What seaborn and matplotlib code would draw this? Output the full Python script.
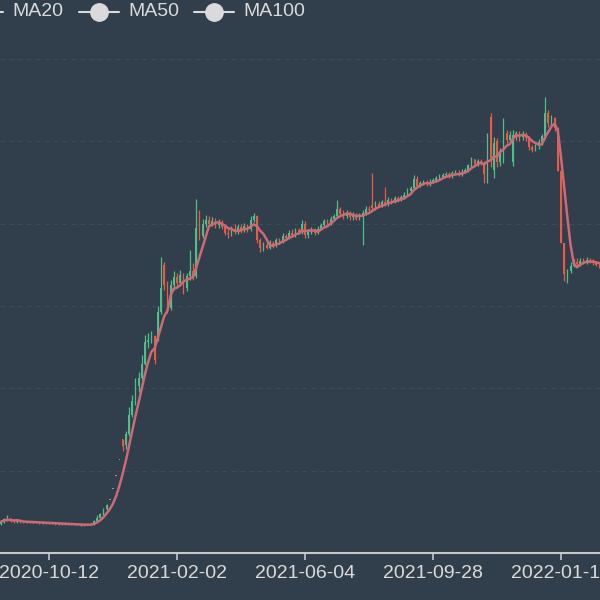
import numpy as np
import pandas as pd
import matplotlib
matplotlib.use("Agg")
import matplotlib.pyplot as plt
from matplotlib.lines import Line2D
import seaborn as sns

# ---------------------------------------------------------------------------
# Candles (one candle per ~2 trading days, price units)
# ---------------------------------------------------------------------------
open_ = [
    3.5, 3.8, 4.1, 4.2, 3.9, 3.8, 3.9, 3.8, 3.7, 3.8,
    3.7, 3.75, 3.7, 3.65, 3.7, 3.6, 3.65, 3.6, 3.55, 3.6,
    3.5, 3.55, 3.5, 3.45, 3.5, 3.4, 3.45, 3.4, 3.45, 3.5,
    3.9, 4.3, 4.7, 5.3, 6.4, 7.75, 9.4, 11.35, 13.8, 13.1,
    14.4, 16.8, 18.5, 20.3, 21.3, 23.0, 25.6, 25.9, 26.4, 26.0,
    29.3, 35.0, 32.5, 29.8, 32.6, 33.5, 32.8, 33.8, 32.2, 33.6,
    34.3, 33.6, 41.0, 38.5, 40.0, 40.5, 40.0, 40.3, 39.8, 40.2,
    39.6, 38.9, 38.7, 39.4, 39.0, 39.6, 39.2, 39.7, 39.3, 40.5,
    40.9, 38.0, 37.0, 37.4, 37.1, 37.6, 37.4, 38.0, 37.8, 38.5,
    38.3, 38.9, 38.6, 39.2, 39.0, 40.0, 38.6, 39.0, 39.3, 38.9,
    39.4, 39.8, 40.3, 40.0, 40.6, 40.9, 41.8, 41.2, 40.9, 41.3,
    40.8, 41.1, 40.6, 41.0, 41.3, 41.8, 42.3, 41.9, 42.4, 42.2,
    42.6, 42.4, 42.9, 42.7, 43.1, 42.9, 43.2, 43.5, 44.0, 44.3,
    45.4, 44.6, 44.9, 45.0, 44.8, 45.1, 45.3, 45.5, 45.7, 45.9,
    46.0, 45.8, 46.1, 46.2, 46.0, 46.3, 46.5, 47.1, 47.8, 47.2,
    47.6, 47.4, 46.0, 53.0, 46.5, 50.0, 47.5, 47.6, 51.0, 50.2,
    47.5, 50.8, 51.0, 50.5, 50.9, 50.4, 49.3, 49.0, 49.4, 49.9,
    50.6, 53.5, 52.2, 52.8, 51.6, 46.4, 37.6, 33.2, 34.2, 34.9,
    35.4, 35.1, 35.5, 35.3, 35.6, 35.4, 35.2, 35.0,
]
close = [
    3.8, 4.1, 4.2, 3.9, 3.8, 3.9, 3.8, 3.7, 3.8, 3.7,
    3.75, 3.7, 3.65, 3.7, 3.6, 3.65, 3.6, 3.55, 3.6, 3.5,
    3.55, 3.5, 3.45, 3.5, 3.4, 3.45, 3.4, 3.45, 3.5, 3.9,
    4.3, 4.7, 5.3, 5.85, 6.4, 7.75, 9.4, 11.35, 13.0, 14.4,
    16.8, 18.5, 20.3, 21.3, 23.0, 25.6, 25.9, 26.4, 23.4, 29.3,
    32.2, 32.5, 29.8, 32.6, 33.5, 32.8, 33.8, 32.2, 33.6, 34.3,
    33.6, 39.5, 38.5, 40.0, 40.5, 40.0, 40.3, 39.8, 40.2, 39.6,
    38.9, 38.7, 39.4, 39.0, 39.6, 39.2, 39.7, 39.3, 40.5, 40.9,
    38.0, 37.0, 37.4, 37.1, 37.6, 37.4, 38.0, 37.8, 38.5, 38.3,
    38.9, 38.6, 39.2, 39.0, 40.0, 38.6, 39.0, 39.3, 38.9, 39.4,
    39.8, 40.3, 40.0, 40.6, 40.9, 41.8, 41.2, 40.9, 41.3, 40.8,
    41.1, 40.6, 41.0, 41.3, 41.8, 41.7, 41.9, 42.4, 42.2, 42.6,
    42.4, 42.9, 42.7, 43.1, 42.9, 43.2, 43.5, 44.0, 44.3, 45.4,
    44.6, 44.9, 45.0, 44.8, 45.1, 45.3, 45.5, 45.7, 45.9, 46.0,
    45.8, 46.1, 46.2, 46.0, 46.3, 46.5, 47.1, 47.8, 47.2, 47.6,
    47.4, 46.0, 49.5, 48.0, 49.8, 47.5, 48.8, 51.0, 50.2, 50.8,
    50.8, 51.0, 50.5, 50.9, 50.4, 49.3, 49.0, 49.4, 49.9, 50.6,
    53.5, 52.2, 52.8, 51.6, 46.4, 37.6, 33.9, 34.2, 34.9, 35.4,
    35.1, 35.5, 35.3, 35.6, 35.4, 35.2, 35.0, 34.8,
]
high = [
    4.0, 4.3, 4.6, 4.3, 4.0, 4.0, 4.0, 3.9, 3.9, 3.9,
    3.85, 3.8, 3.8, 3.8, 3.75, 3.75, 3.7, 3.7, 3.7, 3.65,
    3.6, 3.6, 3.6, 3.55, 3.55, 3.5, 3.5, 3.55, 3.6, 4.0,
    4.6, 4.9, 5.5, 6.0, 6.4, 7.75, 9.4, 11.35, 13.9, 14.8,
    17.7, 19.2, 21.2, 22.0, 24.0, 26.5, 26.7, 27.0, 26.5, 30.0,
    36.0, 35.3, 33.0, 33.2, 34.2, 34.0, 34.4, 34.0, 34.0, 36.8,
    35.2, 43.0, 41.6, 40.6, 41.0, 40.9, 40.8, 40.7, 40.6, 40.5,
    39.8, 39.3, 39.7, 39.9, 40.0, 39.9, 40.1, 40.0, 40.9, 41.3,
    41.0, 38.3, 37.8, 37.9, 38.0, 37.9, 38.3, 38.3, 38.9, 38.8,
    39.2, 39.3, 39.5, 39.5, 40.5, 40.3, 39.4, 39.6, 39.5, 39.7,
    40.1, 40.6, 40.6, 40.9, 41.2, 42.9, 42.0, 41.6, 41.6, 41.5,
    41.4, 41.3, 41.3, 41.6, 42.1, 42.1, 46.2, 42.7, 42.7, 42.9,
    44.5, 43.2, 43.1, 43.4, 43.3, 43.5, 43.8, 44.3, 44.6, 45.9,
    45.8, 45.2, 45.3, 45.3, 45.4, 45.6, 45.8, 46.0, 46.2, 46.3,
    46.3, 46.4, 46.5, 46.5, 46.6, 46.8, 47.3, 48.1, 47.9, 47.9,
    47.8, 47.6, 51.0, 53.5, 50.5, 50.4, 49.2, 52.8, 51.4, 51.2,
    51.4, 51.3, 51.2, 51.2, 51.1, 50.6, 49.6, 49.7, 50.3, 50.9,
    55.4, 53.8, 53.2, 53.0, 51.8, 46.4, 37.6, 34.5, 35.3, 35.7,
    35.8, 35.8, 35.8, 35.9, 35.8, 35.7, 35.5, 35.3,
]
low = [
    3.4, 3.7, 3.9, 3.8, 3.7, 3.7, 3.7, 3.6, 3.6, 3.6,
    3.6, 3.6, 3.55, 3.55, 3.55, 3.5, 3.5, 3.45, 3.45, 3.45,
    3.4, 3.4, 3.4, 3.35, 3.35, 3.3, 3.3, 3.35, 3.4, 3.45,
    3.8, 4.2, 4.6, 5.2, 6.4, 7.75, 9.4, 11.35, 12.4, 12.6,
    14.2, 16.5, 18.0, 19.5, 21.0, 22.8, 24.9, 25.5, 23.0, 25.8,
    29.0, 32.0, 29.1, 29.5, 32.0, 32.2, 32.5, 31.4, 31.8, 33.2,
    33.1, 33.4, 38.0, 38.2, 39.6, 39.6, 39.7, 39.5, 39.5, 39.3,
    38.6, 38.3, 38.5, 38.8, 38.8, 38.9, 39.0, 39.0, 39.1, 40.2,
    37.6, 36.6, 36.7, 36.9, 36.9, 37.1, 37.2, 37.5, 37.6, 38.0,
    38.1, 38.4, 38.4, 38.7, 38.8, 38.2, 38.3, 38.7, 38.6, 38.7,
    39.2, 39.6, 39.8, 39.8, 40.4, 40.7, 40.9, 40.6, 40.7, 40.5,
    40.5, 40.4, 40.4, 37.4, 41.1, 41.4, 41.7, 41.7, 42.0, 42.0,
    42.2, 42.2, 42.4, 42.5, 42.6, 42.7, 43.0, 43.3, 43.8, 44.1,
    44.4, 44.4, 44.7, 44.6, 44.6, 44.9, 45.1, 45.3, 45.5, 45.7,
    45.6, 45.6, 45.9, 45.8, 45.8, 46.1, 46.3, 46.9, 47.0, 47.0,
    47.1, 45.0, 45.0, 46.9, 45.5, 46.9, 47.0, 47.4, 49.8, 49.9,
    47.0, 50.2, 50.1, 50.2, 50.1, 48.9, 48.7, 48.8, 49.1, 49.6,
    50.3, 51.7, 51.9, 51.3, 46.4, 37.6, 33.0, 32.8, 34.0, 34.7,
    34.9, 34.9, 35.1, 35.1, 35.2, 35.0, 34.8, 34.6,
]

tick_labels = ["2020-10-12", "2021-02-02", "2021-06-04", "2021-09-28", "2022-01-18"]
tick_candles = [15, 55, 95, 135, 175]
legend_names = ["MA20", "MA50", "MA100"]

BG = "#313e4b"
UP = "#4cbf8a"
DOWN = "#eb5a46"
MA_COLOR = "#cd6a76"
TEXT = "#dadada"
AXIS = "#c4c8cc"

sns.set_theme(style="dark", rc={"axes.facecolor": BG, "figure.facecolor": BG})
plt.rcParams["font.family"] = ["Liberation Sans", "DejaVu Sans"]

df = pd.DataFrame({"open": open_, "close": close, "high": high, "low": low})
df["idx"] = np.arange(len(df))
df["ma"] = df["close"].rolling(5, min_periods=1).mean()
df["color"] = np.where(df["close"] >= df["open"], UP, DOWN)

fig = plt.figure(figsize=(6, 6), dpi=100)
ax = fig.add_axes([0, 47 / 600, 1, 494 / 600])
ax.set_facecolor(BG)

# faint dashed horizontal grid
ax.set_ylim(0, 60)
ax.set_yticks(range(0, 61, 10))
ax.yaxis.grid(True, color="#3f4c59", linestyle=(0, (4, 4)), linewidth=0.8)
ax.xaxis.grid(False)
ax.set_axisbelow(True)

# candles: wicks + bodies
ax.vlines(df["idx"], df["low"], df["high"], colors=df["color"], linewidth=0.9)
body = (df["close"] - df["open"]).abs().clip(lower=0.12)
bottom = df[["open", "close"]].min(axis=1)
ax.bar(df["idx"], body, bottom=bottom, width=0.55, color=df["color"], linewidth=0)

sns.lineplot(data=df, x="idx", y="ma", ax=ax, color=MA_COLOR, linewidth=1.8)

ax.set_xlim(-0.3125, 187.19)
ax.set_xticks(tick_candles)
ax.set_xticklabels(tick_labels)
ax.set_xlabel("")
ax.set_ylabel("")
ax.tick_params(axis="x", colors=AXIS, labelcolor=TEXT, labelsize=14,
               length=5, width=1.2, pad=4, bottom=True)
ax.tick_params(axis="y", left=False, labelleft=False)
for side in ["left", "right", "top"]:
    ax.spines[side].set_visible(False)
ax.spines["bottom"].set_color(AXIS)
ax.spines["bottom"].set_linewidth(1.5)

# legend row along the top (partly cut off on the left, as in the source)
y_leg = 1 - 12 / 600
for name, x0 in zip(legend_names, [-37, 79, 194]):
    fig.add_artist(Line2D([x0 / 600, (x0 + 40) / 600], [y_leg, y_leg],
                          transform=fig.transFigure, color=TEXT, linewidth=1.5))
    fig.add_artist(Line2D([(x0 + 20) / 600], [y_leg], transform=fig.transFigure,
                          marker="o", markersize=12.5, color=TEXT, linestyle="none"))
    fig.text((x0 + 49) / 600, y_leg, name, color=TEXT, fontsize=14,
             ha="left", va="center")

fig.savefig("out.png", dpi=100, facecolor=BG)
